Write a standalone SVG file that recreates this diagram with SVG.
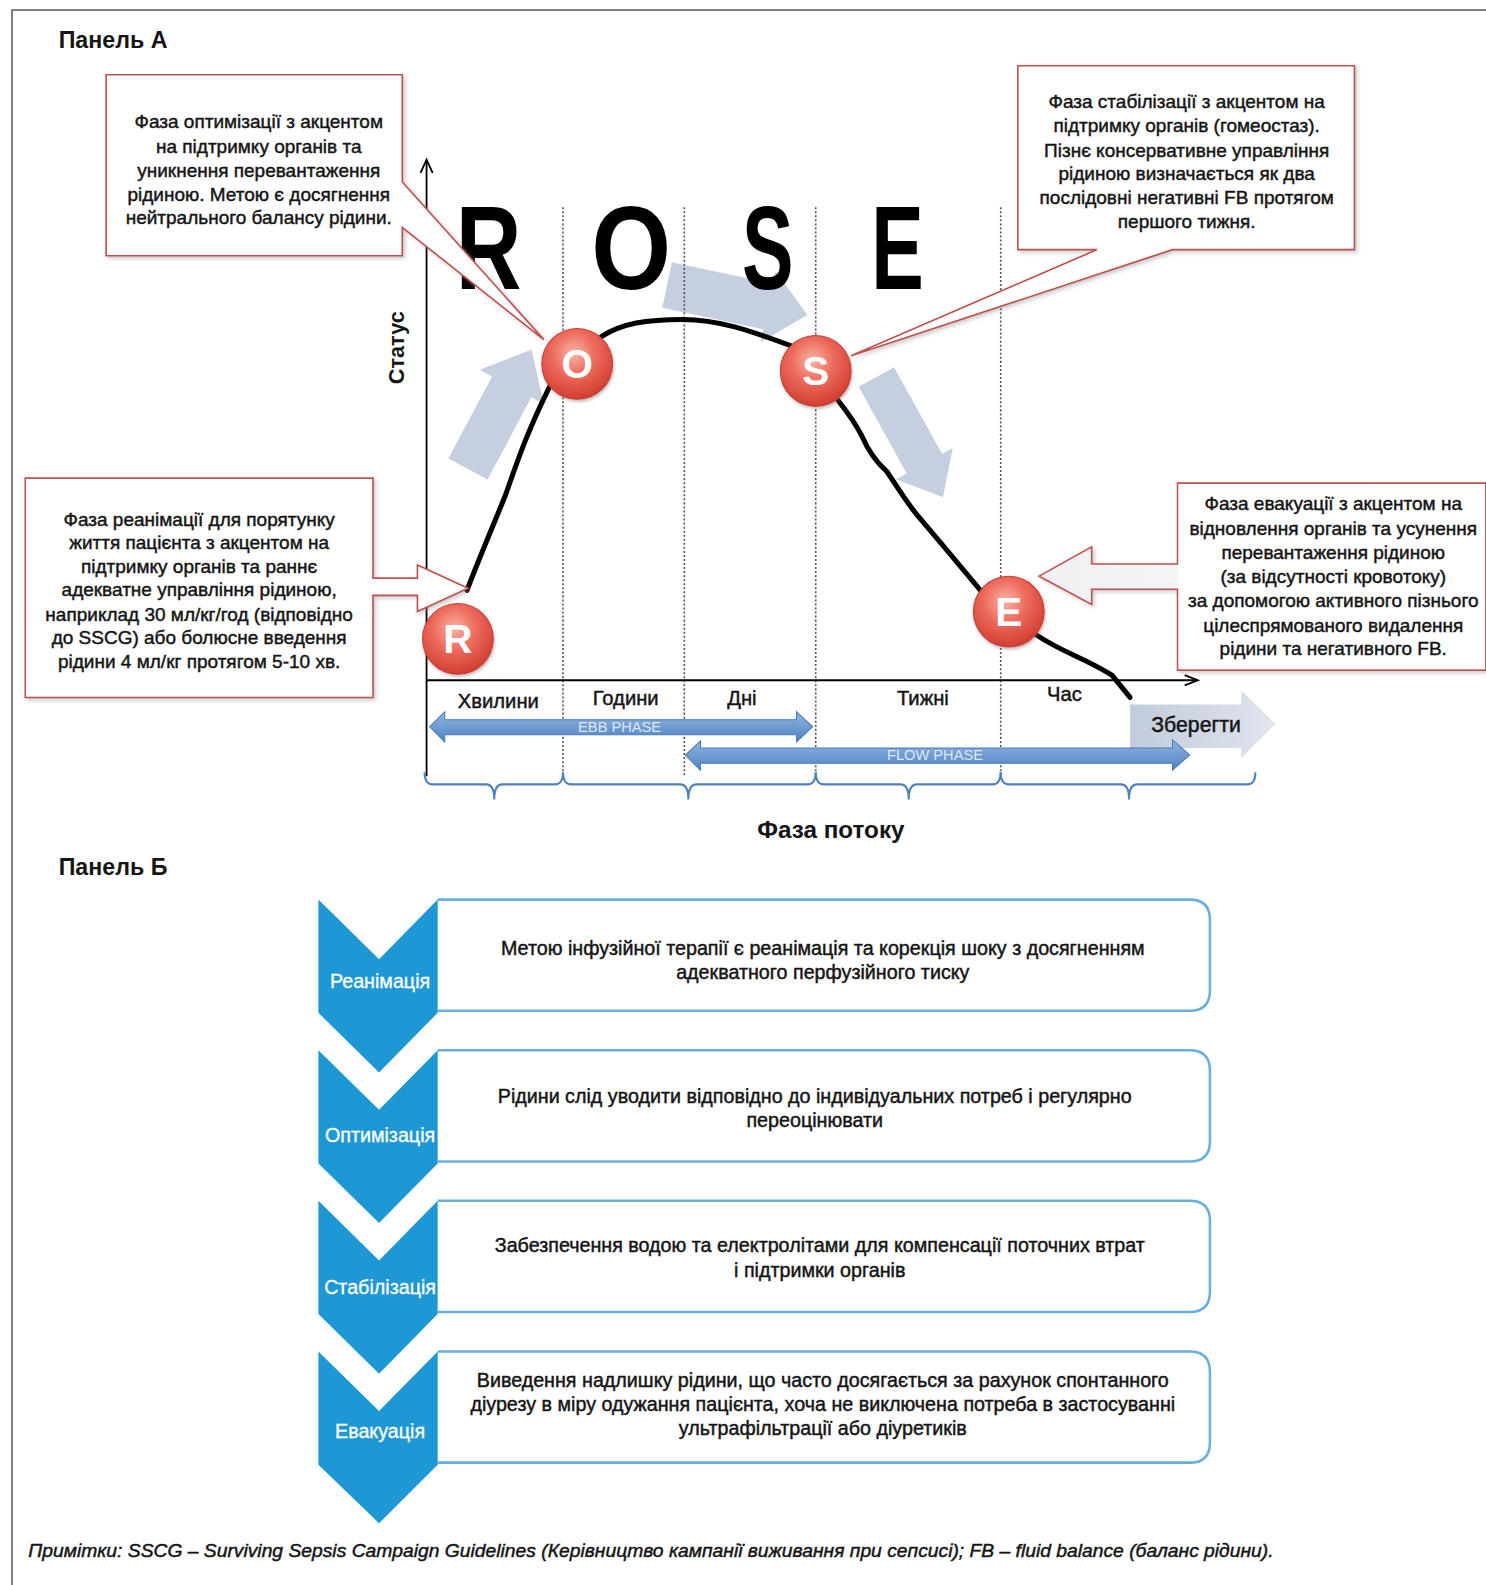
<svg xmlns="http://www.w3.org/2000/svg" width="1486" height="1585" viewBox="0 0 1486 1585">
<defs>
<style>
.t{font-family:"Liberation Sans",Arial,sans-serif;fill:#151515;}
.m{stroke:#151515;stroke-width:0.45;}
.c{font-size:18.8px;text-anchor:middle;}
.b{font-size:19.5px;text-anchor:middle;}
.lab{font-size:20px;text-anchor:middle;}
.h{font-weight:bold;}
.call{fill:#fff;stroke:#c0504d;stroke-width:1.6;filter:url(#sh);}
.ga{fill:#c6cfdf;}
.dash{stroke:#555;stroke-width:1.6;stroke-dasharray:2 2;fill:none;}
.curve{fill:none;stroke:#000;stroke-width:5;stroke-linecap:round;stroke-linejoin:round;}
.circ{fill:url(#rg);stroke:#c83a30;stroke-width:1;filter:url(#sh2);}
.cl{font-family:"Liberation Sans",Arial,sans-serif;font-weight:bold;font-size:40px;fill:#fff;text-anchor:middle;}
.brace{fill:none;stroke:#4f81bd;stroke-width:2;}
.ba{fill:url(#bg);stroke:#4a7ab5;stroke-width:1;}
.bt{font-family:"Liberation Sans",Arial,sans-serif;font-size:14.5px;fill:#dde7f5;text-anchor:middle;}
.chev{fill:#1e98d5;}
.box{fill:#fff;stroke:#6aaee0;stroke-width:2.5;}
.cw{font-family:"Liberation Sans",Arial,sans-serif;font-size:19.5px;fill:#fff;stroke:#fff;stroke-width:0.3;text-anchor:middle;}
.big{font-family:"Liberation Sans",Arial,sans-serif;font-weight:bold;font-size:118px;fill:#000;}
</style>
<filter id="sh" x="-10%" y="-10%" width="120%" height="120%">
<feDropShadow dx="2" dy="2" stdDeviation="2" flood-color="#888" flood-opacity="0.45"/>
</filter>
<filter id="sh2" x="-20%" y="-20%" width="140%" height="140%">
<feDropShadow dx="1" dy="2" stdDeviation="1.5" flood-color="#777" flood-opacity="0.5"/>
</filter>
<radialGradient id="rg" cx="45%" cy="35%" r="65%">
<stop offset="0" stop-color="#f8b4a6"/>
<stop offset="0.45" stop-color="#ee6d5e"/>
<stop offset="1" stop-color="#d23d31"/>
</radialGradient>
<linearGradient id="bg" x1="0" y1="0" x2="0" y2="1">
<stop offset="0" stop-color="#93b6e4"/>
<stop offset="1" stop-color="#4f82c0"/>
</linearGradient>
<linearGradient id="zg" x1="0" y1="0" x2="1" y2="0">
<stop offset="0" stop-color="#c2cbdb"/>
<stop offset="1" stop-color="#e0e5ee"/>
</linearGradient>
<linearGradient id="eg" x1="0" y1="0" x2="1" y2="0">
<stop offset="0" stop-color="#f0f0f2"/>
<stop offset="1" stop-color="#ffffff"/>
</linearGradient>
</defs>
<rect width="1486" height="1585" fill="#fff"/>
<g id="frame"><path d="M12,1585 V10 H1486" fill="none" stroke="#555" stroke-width="1.5"/></g>
<g transform="scale(1.0108)">
<text class="t h" x="58" y="47" font-size="23">Панель А</text>
<text class="t h" x="58" y="866" font-size="23">Панель Б</text>

<g id="gray-arrows">
<path class="ga" transform="translate(463,464) rotate(-62)" d="M0,-22 H92 V-36 L134,0 L92,36 V22 H0 Z"/>
<path class="ga" transform="translate(660,282) rotate(12)" d="M0,-23 H102 V-36 L142,0 L102,36 V23 H0 Z"/>
<path class="ga" transform="translate(867,373) rotate(61)" d="M0,-20 H98 V-32 L136,0 L98,32 V20 H0 Z"/>
</g>

<g id="rose-letters">
<text class="big" x="451" y="286" textLength="65" lengthAdjust="spacingAndGlyphs">R</text>
<text class="big" x="585" y="286" textLength="79" lengthAdjust="spacingAndGlyphs">O</text>
<text class="big" x="734" y="286" textLength="51" lengthAdjust="spacingAndGlyphs">S</text>
<text class="big" x="862" y="286" textLength="52" lengthAdjust="spacingAndGlyphs">E</text>
</g>

<g id="grid">
<line class="dash" x1="557" y1="205" x2="557" y2="772"/>
<line class="dash" x1="677" y1="205" x2="677" y2="768"/>
<line class="dash" x1="807" y1="205" x2="807" y2="772"/>
<line class="dash" x1="990" y1="205" x2="990" y2="772"/>
</g>

<g id="axes" fill="none" stroke="#000" stroke-width="1.8">
<line x1="422" y1="159" x2="422" y2="768"/>
<path d="M416,171 L422,158 L428,171"/>
<line x1="422" y1="673" x2="1184" y2="673"/>
<path d="M1172,668 L1185,673 L1172,678"/>
</g>
<text class="t h" font-size="21.5" text-anchor="middle" transform="translate(400,344) rotate(-90)">Статус</text>

<g id="zberegty">
<path d="M1118,697 H1228 V683 L1262,716 L1228,750 V740 H1118 Z" fill="url(#zg)"/>
<text class="t m" x="1139" y="724" font-size="21">Зберегти</text>
</g>

<g id="connectors">
<path class="curve" d="M462,584 C475,550 490,515 500,490 C510,462 520,430 545,380"/>
<path class="curve" d="M595,333 C615,320 640,316 675,316 C710,316 740,326 790,345"/>
<path class="curve" d="M829,396 C840,410 848,422 853,432 C860,448 868,458 877,466 C890,485 900,502 912,515 C925,530 940,548 975,590"/>
<path class="curve" d="M1025,628 C1050,645 1075,652 1100,668 L1118,690"/>
</g>

<g id="node-R"><circle class="circ" cx="453" cy="632" r="35"/><text class="cl" x="453" y="646">R</text></g>
<g id="node-O"><circle class="circ" cx="571" cy="360" r="35"/><text class="cl" x="571" y="374">O</text></g>
<g id="node-S"><circle class="circ" cx="807" cy="367" r="35"/><text class="cl" x="807" y="381">S</text></g>
<g id="node-E"><circle class="circ" cx="998" cy="605" r="35"/><text class="cl" x="998" y="619">E</text></g>

<g id="callout-O">
<path class="call" d="M105,74 H398 V180 L538,336 L398,225 V253 H105 Z"/>
<text class="t m c"><tspan x="256" y="127">Фаза оптимізації з акцентом</tspan><tspan x="256" y="151">на підтримку органів та</tspan><tspan x="256" y="175">уникнення перевантаження</tspan><tspan x="256" y="199">рідиною. Метою є досягнення</tspan><tspan x="256" y="222">нейтрального балансу рідини.</tspan></text>
</g>

<g id="callout-S">
<path class="call" d="M1007,65 H1340 V247 H1160 L842,352 L1085,247 H1007 Z"/>
<text class="t m c"><tspan x="1174" y="107">Фаза стабілізації з акцентом на</tspan><tspan x="1174" y="131">підтримку органів (гомеостаз).</tspan><tspan x="1174" y="155">Пізнє консервативне управління</tspan><tspan x="1174" y="178">рідиною визначається як два</tspan><tspan x="1174" y="202">послідовні негативні FB протягом</tspan><tspan x="1174" y="226">першого тижня.</tspan></text>
</g>

<g id="callout-R">
<path class="call" d="M25,473 H369 V572 H413 V559 L463,582 L413,605 V589 H369 V690 H25 Z"/>
<text class="t m c"><tspan x="197" y="520">Фаза реанімації для порятунку</tspan><tspan x="197" y="543">життя пацієнта з акцентом на</tspan><tspan x="197" y="567">підтримку органів та раннє</tspan><tspan x="197" y="590">адекватне управління рідиною,</tspan><tspan x="197" y="614">наприклад 30 мл/кг/год (відповідно</tspan><tspan x="197" y="637">до SSCG) або болюсне введення</tspan><tspan x="197" y="661">рідини 4 мл/кг протягом 5-10 хв.</tspan></text>
</g>

<g id="callout-E">
<path class="call" d="M1165,478 H1470 V663 H1165 V583 H1080 V598 L1028,570 L1080,541 V558 H1165 Z" style="fill:url(#eg)"/>
<rect x="1166" y="479" width="303" height="183" fill="#fff"/>
<text class="t m c"><tspan x="1319" y="505">Фаза евакуації з акцентом на</tspan><tspan x="1319" y="529">відновлення органів та усунення</tspan><tspan x="1319" y="553">перевантаження рідиною</tspan><tspan x="1319" y="577">(за відсутності кровотоку)</tspan><tspan x="1319" y="601">за допомогою активного пізнього</tspan><tspan x="1319" y="625">цілеспрямованого видалення</tspan><tspan x="1319" y="648">рідини та негативного FB.</tspan></text>
</g>

<g id="time-labels">
<text class="t m lab" x="493" y="700">Хвилини</text>
<text class="t m lab" x="619" y="697">Години</text>
<text class="t m lab" x="734" y="697">Дні</text>
<text class="t m lab" x="913" y="697">Тижні</text>
<text class="t m lab" x="1053" y="694">Час</text>
</g>

<g id="phase-arrows">
<path class="ba" d="M425,719 L440,704 V712 H788 V704 L804,719 L788,734 V727 H440 V734 Z"/>
<text class="bt" x="613" y="724">EBB PHASE</text>
<path class="ba" d="M678,747 L693,733 V740 H1160 V732 L1177,747 L1160,762 V755 H693 V762 Z"/>
<text class="bt" x="925" y="752">FLOW PHASE</text>
</g>

<g id="braces">
<path class="brace" d="M420,764 Q420,776 428,776 H481 Q489,776 489,791 Q489,776 497,776 H549 Q557,776 557,764"/>
<path class="brace" d="M557,764 Q557,776 565,776 H673 Q681,776 681,791 Q681,776 689,776 H799 Q807,776 807,764"/>
<path class="brace" d="M807,764 Q807,776 815,776 H891 Q899,776 899,791 Q899,776 907,776 H982 Q990,776 990,764"/>
<path class="brace" d="M990,764 Q990,776 998,776 H1109 Q1117,776 1117,791 Q1117,776 1125,776 H1234 Q1242,776 1242,764"/>
</g>
<text class="t h" x="822" y="829" font-size="24" text-anchor="middle">Фаза потоку</text>

<g id="row-1">
<path class="box" d="M433,890 H1177 Q1197,890 1197,910 V980 Q1197,1000 1177,1000 H433"/>
<path class="chev" d="M315,890 L375,949 L433,890 V1002 L375,1061 L315,1002 Z"/>
<text class="cw" x="376" y="977">Реанімація</text>
<text class="t m b"><tspan x="814" y="945">Метою інфузійної терапії є реанімація та корекція шоку з досягненням</tspan><tspan x="814" y="969">адекватного перфузійного тиску</tspan></text>
</g>
<g id="row-2">
<path class="box" d="M433,1039 H1177 Q1197,1039 1197,1059 V1129 Q1197,1149 1177,1149 H433"/>
<path class="chev" d="M315,1039 L375,1098 L433,1039 V1151 L375,1210 L315,1151 Z"/>
<text class="cw" x="376" y="1130">Оптимізація</text>
<text class="t m b"><tspan x="806" y="1091">Рідини слід уводити відповідно до індивідуальних потреб і регулярно</tspan><tspan x="806" y="1115">переоцінювати</tspan></text>
</g>
<g id="row-3">
<path class="box" d="M433,1188 H1177 Q1197,1188 1197,1208 V1278 Q1197,1298 1177,1298 H433"/>
<path class="chev" d="M315,1188 L375,1247 L433,1188 V1300 L375,1359 L315,1300 Z"/>
<text class="cw" x="376" y="1280">Стабілізація</text>
<text class="t m b"><tspan x="811" y="1239">Забезпечення водою та електролітами для компенсації поточних втрат</tspan><tspan x="811" y="1263">і підтримки органів</tspan></text>
</g>
<g id="row-4">
<path class="box" d="M433,1337 H1177 Q1197,1337 1197,1357 V1427 Q1197,1447 1177,1447 H433"/>
<path class="chev" d="M315,1337 L375,1396 L433,1337 V1449 L375,1507 L315,1449 Z"/>
<text class="cw" x="376" y="1423">Евакуація</text>
<text class="t m b"><tspan x="814" y="1372">Виведення надлишку рідини, що часто досягається за рахунок спонтанного</tspan><tspan x="814" y="1396">діурезу в міру одужання пацієнта, хоча не виключена потреба в застосуванні</tspan><tspan x="814" y="1420">ультрафільтрації або діуретиків</tspan></text>
</g>

<text class="t m" x="28" y="1540" font-size="18" font-style="italic" textLength="1232" lengthAdjust="spacingAndGlyphs">Примітки: SSCG – Surviving Sepsis Campaign Guidelines (Керівництво кампанії виживання при сепсисі); FB – fluid balance (баланс рідини).</text>
</g>
</svg>
